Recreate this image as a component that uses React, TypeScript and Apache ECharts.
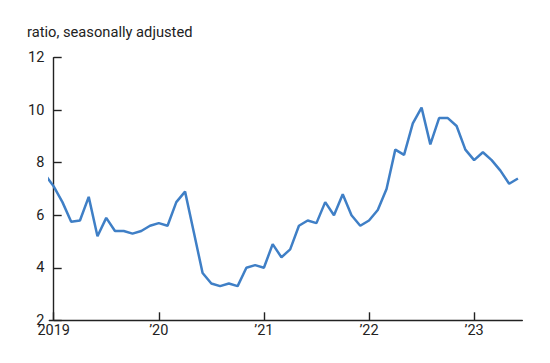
import React, { useEffect, useRef } from "react";
import * as echarts from "echarts";

// month index 0 = Jan 2019; first value is Dec 2018 (index -1, clipped at axis edge)
const startIndex = -1;
const values: number[] = [
  7.55,
  7.1, 6.5, 5.75, 5.8, 6.7, 5.2, 5.9, 5.4, 5.4, 5.3, 5.4, 5.6,
  5.7, 5.6, 6.5, 6.9, 5.35, 3.8, 3.4, 3.3, 3.4, 3.3, 4.0, 4.1,
  4.0, 4.9, 4.4, 4.7, 5.6, 5.8, 5.7, 6.5, 6.0, 6.8, 6.0, 5.6,
  5.8, 6.2, 7.0, 8.5, 8.3, 9.5, 10.1, 8.7, 9.7, 9.7, 9.4, 8.5,
  8.1, 8.4, 8.1, 7.7, 7.2, 7.4,
];
const yearTickIndices = [0, 12, 24, 36, 48];
const yearTickLabels = ["2019", "\u201920", "\u201921", "\u201922", "\u201923"];
const yTitle = "ratio, seasonally adjusted";

export default function App() {
  const ref = useRef<HTMLDivElement>(null);
  useEffect(() => {
    document.body.style.margin = "0";
    if (!ref.current) return;
    const chart = echarts.init(ref.current, undefined, { renderer: "svg" });
    const data = values.map((v, i) => [startIndex + i, v]);
    const font = "Roboto, 'Noto Sans', sans-serif";
    chart.setOption({
      animation: false,
      title: {
        text: yTitle,
        left: 27,
        top: 24,
        padding: 0,
        textStyle: { fontFamily: font, fontSize: 14.7, fontWeight: "normal", color: "#222" },
      },
      grid: { left: 49.3, right: 27.7, top: 57.7, bottom: 42.7, containLabel: false },
      xAxis: {
        type: "value",
        min: -0.5,
        max: 53.5,
        splitLine: { show: false },
        axisLine: { show: true, lineStyle: { color: "#222", width: 1.4 } },
        axisTick: {
          show: true,
          inside: true,
          length: 8,
          customValues: yearTickIndices,
          lineStyle: { color: "#222", width: 1.4 },
        },
        axisLabel: {
          customValues: yearTickIndices,
          formatter: (v: number) => yearTickLabels[yearTickIndices.indexOf(Math.round(v))] ?? "",
          fontFamily: font,
          fontSize: 14.5,
          color: "#222",
          margin: 3,
        },
      },
      yAxis: {
        type: "value",
        min: 2,
        max: 12,
        interval: 2,
        splitLine: { show: false },
        axisLine: { show: true, lineStyle: { color: "#222", width: 1.4 } },
        axisTick: { show: true, inside: true, length: 8, lineStyle: { color: "#222", width: 1.4 } },
        axisLabel: { fontFamily: font, fontSize: 14.5, color: "#222", margin: 5 },
      },
      series: [
        {
          type: "line",
          data,
          showSymbol: false,
          symbol: "none",
          clip: true,
          lineStyle: { color: "#3f7fc6", width: 2.5 },
        },
      ],
    });
    return () => chart.dispose();
  }, []);
  return <div ref={ref} style={{ width: 550, height: 363 }} />;
}
